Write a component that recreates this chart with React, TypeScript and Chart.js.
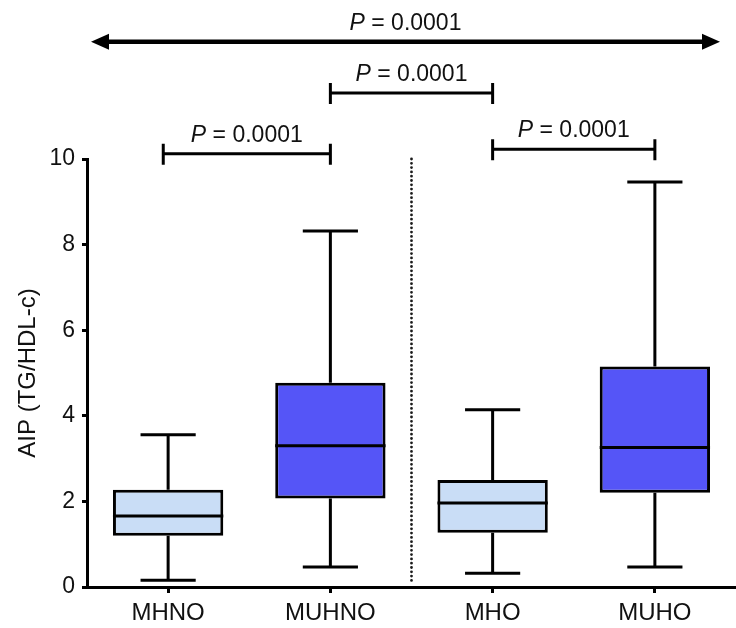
import { useEffect, useRef } from "react";
import { Chart, registerables } from "chart.js";

Chart.register(...registerables);

// Groups and their box-plot summaries (AIP = TG/HDL-c)
const groups = ["MHNO", "MUHNO", "MHO", "MUHO"];
const whiskerLow = [0.16, 0.47, 0.32, 0.47];
const quartile1 = [1.2, 2.07, 1.27, 2.2];
const medians = [1.66, 3.3, 1.96, 3.26];
const quartile3 = [2.27, 4.77, 2.5, 5.15];
const whiskerHigh = [3.56, 8.32, 4.14, 9.46];
const boxColors = ["#c9ddf6", "#5555f7", "#c9ddf6", "#5555f7"];

const yMin = 0;
const yMax = 10;
const yStep = 2;

// Pairwise comparisons: category positions of the bracket ends, bracket height (axis units), p-value
const pairFrom = [-0.03, 1, 2];
const pairTo = [1, 2, 3];
const pairLevel = [10.12, 11.54, 10.23];
const pairP = ["0.0001", "0.0001", "0.0001"];

// Overall comparison spanning all groups
const overallLevel = 12.74;
const overallP = "0.0001";

const FONT = "'Liberation Sans', Arial, Helvetica, sans-serif";
const INK = "#111111";

function drawPLabel(ctx: CanvasRenderingContext2D, cx: number, baseline: number, value: string) {
  const size = 23;
  ctx.save();
  ctx.fillStyle = INK;
  ctx.textBaseline = "alphabetic";
  ctx.textAlign = "left";
  ctx.font = `italic ${size}px ${FONT}`;
  const pW = ctx.measureText("P").width;
  ctx.font = `${size}px ${FONT}`;
  const rest = " = " + value;
  const rW = ctx.measureText(rest).width;
  const x0 = cx - (pW + rW) / 2;
  ctx.font = `italic ${size}px ${FONT}`;
  ctx.fillText("P", x0, baseline);
  ctx.font = `${size}px ${FONT}`;
  ctx.fillText(rest, x0 + pW, baseline);
  ctx.restore();
}

const boxPlotPlugin = {
  id: "boxPlotParts",
  beforeDatasetsDraw(chart: any) {
    const { ctx, scales } = chart;
    const x = scales.x;
    const y = scales.y;
    const meta = chart.getDatasetMeta(0);
    ctx.save();
    ctx.strokeStyle = "#000";
    ctx.lineWidth = 3;
    ctx.lineCap = "butt";
    groups.forEach((_, i) => {
      const cx = x.getPixelForValue(i);
      const bar = meta.data[i];
      const capHalf = bar ? bar.width / 4 : 27;
      const yHi = y.getPixelForValue(whiskerHigh[i]);
      const yLo = y.getPixelForValue(whiskerLow[i]);
      const yQ3 = y.getPixelForValue(quartile3[i]);
      const yQ1 = y.getPixelForValue(quartile1[i]);
      ctx.beginPath();
      ctx.moveTo(cx, yQ3);
      ctx.lineTo(cx, yHi);
      ctx.moveTo(cx - capHalf, yHi);
      ctx.lineTo(cx + capHalf, yHi);
      ctx.moveTo(cx, yQ1);
      ctx.lineTo(cx, yLo);
      ctx.moveTo(cx - capHalf, yLo);
      ctx.lineTo(cx + capHalf, yLo);
      ctx.stroke();
    });

    // dotted separator between the non-obese and obese groups
    const sepX = (x.getPixelForValue(1) + x.getPixelForValue(2)) / 2;
    ctx.strokeStyle = "#1a1a1a";
    ctx.lineWidth = 2.8;
    ctx.lineCap = "round";
    ctx.setLineDash([0, 4.3]);
    ctx.beginPath();
    ctx.moveTo(sepX, y.getPixelForValue(yMax));
    ctx.lineTo(sepX, y.getPixelForValue(0.12));
    ctx.stroke();
    ctx.restore();
  },
  afterDatasetsDraw(chart: any) {
    const { ctx, scales } = chart;
    const y = scales.y;
    const meta = chart.getDatasetMeta(0);
    ctx.save();
    ctx.strokeStyle = "#000";
    ctx.lineWidth = 3;
    groups.forEach((_, i) => {
      const bar = meta.data[i];
      if (!bar) return;
      const ym = y.getPixelForValue(medians[i]);
      ctx.beginPath();
      ctx.moveTo(bar.x - bar.width / 2, ym);
      ctx.lineTo(bar.x + bar.width / 2, ym);
      ctx.stroke();
    });
    ctx.restore();
  },
  afterDraw(chart: any) {
    const { ctx, scales, chartArea } = chart;
    const x = scales.x;
    const y = scales.y;
    ctx.save();
    ctx.strokeStyle = "#000";
    ctx.fillStyle = "#000";
    ctx.lineWidth = 3;
    ctx.lineCap = "butt";

    // comparison brackets
    pairFrom.forEach((from, k) => {
      const x1 = x.getPixelForValue(from);
      const x2 = x.getPixelForValue(pairTo[k]);
      const yl = y.getPixelForValue(pairLevel[k]);
      ctx.beginPath();
      ctx.moveTo(x1, yl);
      ctx.lineTo(x2, yl);
      ctx.moveTo(x1, yl - 10);
      ctx.lineTo(x1, yl + 11);
      ctx.moveTo(x2, yl - 10);
      ctx.lineTo(x2, yl + 11);
      ctx.stroke();
      drawPLabel(ctx, (x1 + x2) / 2, yl - 12, pairP[k]);
    });

    // double-headed arrow across all groups
    const ya = y.getPixelForValue(overallLevel);
    const left = chartArea.left + 4;
    const right = chartArea.right - 16;
    const head = 18;
    const half = 8;
    ctx.lineWidth = 4.5;
    ctx.beginPath();
    ctx.moveTo(left + head - 2, ya);
    ctx.lineTo(right - head + 2, ya);
    ctx.stroke();
    ctx.beginPath();
    ctx.moveTo(left, ya);
    ctx.lineTo(left + head, ya - half);
    ctx.lineTo(left + head, ya + half);
    ctx.closePath();
    ctx.fill();
    ctx.beginPath();
    ctx.moveTo(right, ya);
    ctx.lineTo(right - head, ya - half);
    ctx.lineTo(right - head, ya + half);
    ctx.closePath();
    ctx.fill();
    drawPLabel(ctx, (left + right) / 2, ya - 12, overallP);
    ctx.restore();
  },
};

export default function App() {
  const canvasRef = useRef<HTMLCanvasElement | null>(null);

  useEffect(() => {
    const canvas = canvasRef.current;
    if (!canvas) return;
    const chart = new Chart(canvas, {
      type: "bar",
      data: {
        labels: groups,
        datasets: [
          {
            data: groups.map((_, i) => [quartile1[i], quartile3[i]]) as any,
            backgroundColor: boxColors,
            borderColor: "#000",
            borderWidth: 3,
            borderSkipped: false,
            barPercentage: 0.68,
            categoryPercentage: 1,
          },
        ],
      },
      options: {
        responsive: false,
        animation: false,
        events: [],
        layout: { padding: { top: 159, left: 0, right: 0, bottom: 0 } },
        plugins: {
          legend: { display: false },
          tooltip: { enabled: false },
        },
        scales: {
          x: {
            type: "category",
            offset: true,
            border: { display: true, color: "#000", width: 3 },
            grid: {
              display: true,
              offset: false,
              drawOnChartArea: false,
              drawTicks: true,
              tickLength: 6,
              tickWidth: 3,
              tickColor: "#000",
            },
            ticks: {
              color: INK,
              padding: 6,
              font: { family: FONT, size: 24 },
              maxRotation: 0,
            },
            afterFit(scale: any) {
              scale.height = 41;
            },
          },
          y: {
            min: yMin,
            max: yMax,
            border: { display: true, color: "#000", width: 3 },
            grid: {
              display: true,
              drawOnChartArea: false,
              drawTicks: true,
              tickLength: 5,
              tickWidth: 3,
              tickColor: "#000",
            },
            ticks: {
              stepSize: yStep,
              color: INK,
              padding: 7,
              font: { family: FONT, size: 23 },
            },
            title: {
              display: true,
              text: "AIP (TG/HDL-c)",
              color: INK,
              font: { family: FONT, size: 24 },
              padding: { top: 14, bottom: 0 },
            },
            afterFit(scale: any) {
              scale.width = 87;
            },
          },
        },
      },
      plugins: [boxPlotPlugin],
    });
    return () => chart.destroy();
  }, []);

  return (
    <div style={{ position: "fixed", left: 0, top: 0, width: 736, height: 628, background: "#fff" }}>
      <canvas ref={canvasRef} width={736} height={628} />
    </div>
  );
}
